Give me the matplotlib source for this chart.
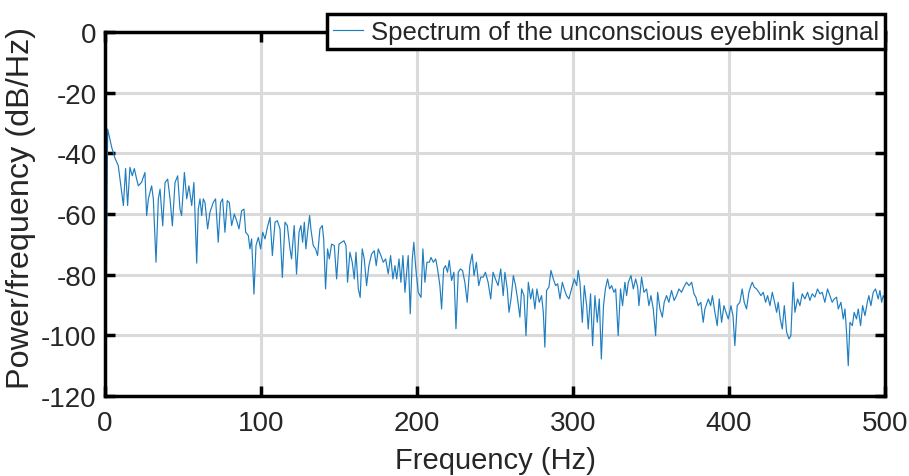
import matplotlib
matplotlib.use("Agg")
import matplotlib.pyplot as plt

plt.rcParams['font.family'] = ['Liberation Sans', 'DejaVu Sans']
plt.rcParams['axes.unicode_minus'] = False

# Power spectral density estimate (Hz, dB/Hz)
freq = [
    0.0, 1.7, 4.3, 6.4, 8.5, 10.7, 11.8, 13.2, 14.5, 16.0, 17.5, 18.8, 20.3, 21.4,
    23.5, 25.6, 26.7, 27.8, 29.9, 31.0, 32.7, 34.2, 35.3, 37.0, 38.5, 40.2, 41.7,
    43.2, 44.9, 46.6, 48.1, 49.1, 50.9, 52.4, 53.8, 55.6, 57.0, 58.8,
    59.8, 60.9, 62.0, 63.0, 64.1, 65.8, 67.3, 69.4, 70.9, 72.6, 74.1, 75.4, 76.9,
    78.4, 79.7, 81.2, 82.9, 84.4, 85.9, 87.6, 89.1, 90.2, 91.9, 92.9, 94.0, 95.5,
    96.8, 98.3, 99.8, 101.1, 102.6, 104.1, 105.8, 107.3, 109.0, 110.5, 112.2,
    113.7, 115.4, 116.9, 118.6, 119.6, 121.3, 122.8,
    124.4, 125.6, 126.7, 127.8, 128.8, 129.9, 131.2, 132.0, 133.5, 135.0, 136.3,
    137.8, 139.3, 140.2, 141.4, 142.7, 143.8, 145.3, 147.0, 148.5, 150.0, 151.7,
    153.2, 154.5, 155.5, 157.0, 158.5, 159.8, 160.9, 162.4, 163.6, 164.9, 166.2,
    167.7, 169.2, 170.9, 172.6, 173.9, 175.2, 176.9, 178.4, 179.9, 181.6, 183.1,
    184.6,
    185.9, 187.0, 188.5, 189.7, 191.0, 192.3, 193.4, 194.4, 195.7, 197.0, 198.0,
    199.1, 200.8, 202.6, 203.8, 205.1, 206.4, 207.9, 209.0, 210.5, 212.0, 213.2,
    214.7, 215.8, 217.1, 218.3, 219.6, 220.7, 222.2, 223.7, 225.0, 226.5, 227.8,
    229.2, 230.7, 232.2, 233.9, 235.4, 236.6, 238.1, 239.6, 240.9, 242.4, 243.9,
    245.6, 247.3, 248.8, 250.3, 252.0, 253.7,
    255.3, 256.4, 257.9, 259.0, 260.3, 261.8, 263.2, 264.5, 266.0, 267.1, 268.6,
    269.9, 271.4, 272.9, 274.1, 275.6, 276.9, 278.4, 279.9, 281.0, 282.0, 283.1,
    284.6, 285.9, 287.4, 288.9, 290.2, 291.7, 293.2, 294.4, 295.9, 297.4, 299.1,
    300.9, 302.4, 303.4, 304.5, 306.0, 307.3, 308.8, 309.8, 311.3, 312.6, 314.1,
    315.6, 316.9, 318.2,
    319.6, 320.8, 322.2, 323.5, 324.8, 326.3, 327.4, 329.0, 330.5, 331.8, 333.3,
    334.4, 335.5, 337.2, 338.7, 340.2, 341.5, 342.3, 344.0, 345.5, 347.2, 348.7,
    350.0, 351.5, 353.0, 354.3, 355.8, 357.3, 358.5, 360.0, 361.5, 363.2, 364.9,
    366.4, 367.9, 369.6, 371.1, 372.8, 374.4, 376.1, 377.6, 378.8, 380.3, 382.0,
    383.5, 384.6,
    386.8, 388.3, 389.4, 391.0, 392.5, 393.8, 395.3, 396.8, 398.1, 399.6, 401.3,
    402.6, 403.8, 405.3, 407.0, 408.5, 409.8, 411.3, 412.8, 414.1, 415.0, 416.2,
    417.7, 419.2, 420.5, 422.0, 423.5, 424.8, 426.3, 427.8, 429.0, 430.6, 431.6,
    432.9, 434.2, 435.5, 437.0, 438.5, 439.7, 441.2,
    442.3, 444.0, 445.5, 447.0, 448.7, 450.4, 451.9, 453.4, 455.1, 456.8, 458.3,
    459.8, 461.5, 463.2, 464.7, 466.2, 467.5, 469.0, 470.1, 471.8, 473.3, 474.4,
    475.4, 476.5, 477.6, 479.1, 480.3, 481.8, 482.9, 484.4, 485.7, 487.2, 488.7,
    489.7, 491.0, 492.5, 494.0, 495.7, 496.8, 497.9, 498.9, 500.0,
]

power_db = [
    -140.0, -32.0, -38.0, -41.6, -44.0, -52.8, -57.2, -45.0, -57.2, -44.6, -47.4,
    -45.0, -48.5, -50.7, -49.5, -46.3, -60.5, -55.0, -50.7, -55.0, -75.9, -55.0,
    -51.8, -63.9, -49.6, -48.5, -55.0, -63.9, -49.6, -47.4, -58.4, -60.5, -46.3,
    -55.0, -50.7, -57.2, -49.6, -76.2,
    -58.4, -55.0, -60.5, -55.0, -56.2, -64.9, -59.4, -56.2, -55.0, -69.3, -56.2,
    -55.0, -66.0, -55.6, -56.2, -63.8, -60.0, -62.2, -64.9, -58.9, -58.4, -66.0,
    -67.1, -71.5, -68.2, -86.4, -70.4, -67.7, -71.5, -66.0, -68.2, -64.4, -61.1,
    -73.7, -62.7, -62.2, -64.9, -80.9, -62.7, -63.8, -71.5, -74.8, -63.8, -79.8,
    -66.0, -63.8, -69.3, -62.7, -71.5, -66.0, -60.5, -64.9, -70.4, -71.5, -73.7,
    -64.9, -63.8, -68.2, -84.7, -71.5, -74.8, -69.9, -70.4, -81.4, -69.9, -69.3,
    -68.8, -70.4, -82.5, -72.6, -75.9, -81.4, -72.6, -84.7, -87.5, -71.5, -74.8,
    -83.6, -77.0, -73.2, -72.1, -77.0, -71.5, -73.7, -75.9, -74.8, -79.7, -73.7,
    -81.4,
    -77.0, -81.4, -74.8, -82.5, -73.7, -85.8, -79.2, -73.7, -92.9, -74.8, -69.3,
    -77.0, -85.8, -87.5, -71.5, -82.5, -75.9, -75.9, -74.3, -75.9, -74.8, -78.1,
    -83.6, -91.3, -78.1, -77.0, -79.2, -75.3, -81.9, -79.2, -97.8, -79.2, -78.1,
    -78.6, -82.5, -89.1, -77.0, -73.2, -80.3, -75.9, -83.6, -80.8, -80.8, -79.2,
    -82.5, -88.0, -79.2, -81.4, -83.6, -78.1,
    -86.9, -79.2, -84.7, -92.4, -88.0, -80.3, -83.6, -88.0, -94.0, -84.7, -86.9,
    -100.1, -82.5, -88.0, -84.7, -91.3, -84.7, -89.1, -86.9, -92.4, -103.9, -85.2,
    -84.1, -78.6, -81.4, -83.6, -83.0, -88.0, -82.5, -84.7, -86.9, -88.0, -84.7,
    -81.4, -83.6, -78.6, -82.5, -95.7, -83.6, -90.2, -97.9, -86.3, -103.4, -86.9,
    -95.7, -88.0, -107.8,
    -90.2, -84.7, -81.4, -84.7, -83.6, -85.8, -84.7, -100.1, -84.7, -90.2, -82.5,
    -86.9, -82.5, -80.3, -84.7, -81.4, -84.1, -90.2, -80.8, -85.8, -84.7, -90.2,
    -86.9, -91.3, -100.1, -85.8, -91.3, -94.0, -89.1, -86.9, -89.1, -85.2, -88.5,
    -86.9, -84.7, -85.8, -84.1, -82.5, -83.6, -82.5, -86.3, -87.4, -90.2, -89.1,
    -95.7, -91.3,
    -88.0, -90.2, -86.9, -92.4, -96.8, -88.0, -95.7, -90.2, -92.4, -94.6, -90.2,
    -93.5, -103.4, -90.2, -89.1, -84.7, -89.1, -91.3, -85.8, -83.6, -82.5, -84.1,
    -84.7, -85.8, -86.9, -85.8, -89.1, -86.9, -90.2, -85.8, -88.5, -92.4, -89.1,
    -94.6, -97.9, -90.2, -99.0, -101.2, -100.1, -82.5,
    -92.4, -88.0, -90.2, -86.3, -88.0, -85.8, -88.5, -86.3, -87.4, -84.7, -86.3,
    -85.8, -89.1, -84.7, -86.9, -89.1, -88.0, -87.4, -91.3, -89.1, -94.6, -91.3,
    -99.0, -110.0, -95.7, -96.8, -92.4, -94.6, -91.3, -96.8, -90.2, -93.5, -89.1,
    -86.9, -90.2, -85.8, -84.7, -88.0, -85.2, -89.1, -86.9, -88.0,
]

x_ticks = [0, 100, 200, 300, 400, 500]
y_ticks = [0, -20, -40, -60, -80, -100, -120]
legend_label = "Spectrum of the unconscious eyeblink signal"

fig = plt.figure(figsize=(9.09, 4.77), dpi=100)
ax = fig.add_axes([0.1155, 0.1677, 0.858, 0.763])

line_color = "#1f7ec0"
ax.plot(freq, power_db, color=line_color, lw=0.85, label=legend_label)

ax.set_xlim(0, 500)
ax.set_ylim(-120, 0)
ax.set_xticks(x_ticks)
ax.set_yticks(y_ticks)
ax.grid(True, color="#dadada", lw=2.2)
ax.set_axisbelow(True)

for s in ax.spines.values():
    s.set_linewidth(2.5)
    s.set_color("black")
ax.tick_params(direction="in", length=7, width=2.5, top=True, right=True,
               labelsize=20, colors="black", labelcolor="#262626")
ax.tick_params(axis="x", pad=10)
ax.tick_params(axis="y", pad=6)

ax.set_xlabel("Frequency (Hz)", fontsize=21, color="#262626", labelpad=7)
ax.set_ylabel("Power/frequency (dB/Hz)", fontsize=23.3, color="#262626")
ax.yaxis.set_label_coords(-0.088, 0.52)

leg = ax.legend(loc="upper right", bbox_to_anchor=(1.0, 1.05), borderaxespad=0,
                fontsize=18.5, frameon=True, fancybox=False, handlelength=1.2,
                handletextpad=0.3, borderpad=0.22)
leg.get_frame().set_edgecolor("black")
leg.get_frame().set_linewidth(2.5)
leg.get_frame().set_alpha(1.0)
for t in leg.get_texts():
    t.set_color("#262626")

fig.savefig("out.png", dpi=100)
